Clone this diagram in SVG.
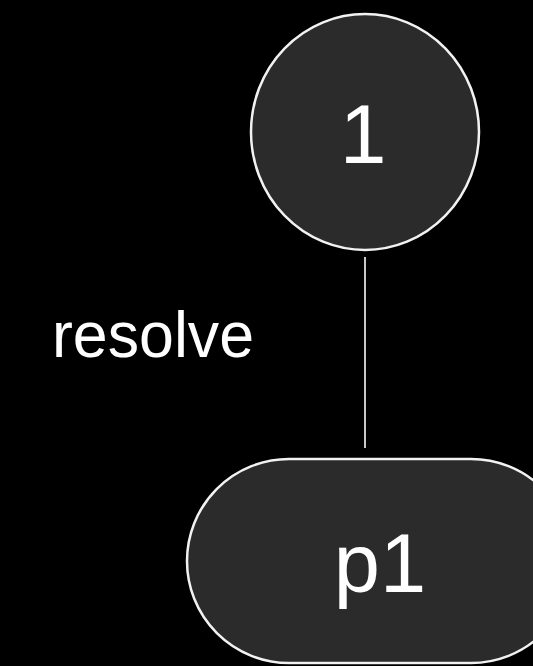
<svg xmlns="http://www.w3.org/2000/svg" width="533" height="666" viewBox="0 0 533 666">
<style>
.node{fill:#2b2b2b;stroke:#f2f2f2;stroke-width:2.5}
.lbl{font-family:"Liberation Sans",Arial,sans-serif;fill:#ffffff;text-anchor:middle}
.edge{stroke:#c8c8c8;stroke-width:2;fill:none}
</style>
<rect width="533" height="666" fill="#000"/>
<g id="connectors">
<line class="edge" x1="365" y1="257" x2="365" y2="448"/>
<text x="52" y="357" font-family="'Liberation Sans',Arial,sans-serif" font-size="64" fill="#fff" textLength="202" lengthAdjust="spacingAndGlyphs">resolve</text>
</g>
<g id="node-1">
<ellipse class="node" cx="365" cy="132" rx="114" ry="118"/>
<text class="lbl" x="363" y="163" font-size="84">1</text>
</g>
<g id="node-p1">
<rect class="node" x="187" y="459" width="386" height="204" rx="102" ry="102"/>
<text class="lbl" x="380" y="592" font-size="83">p1</text>
</g>
</svg>
